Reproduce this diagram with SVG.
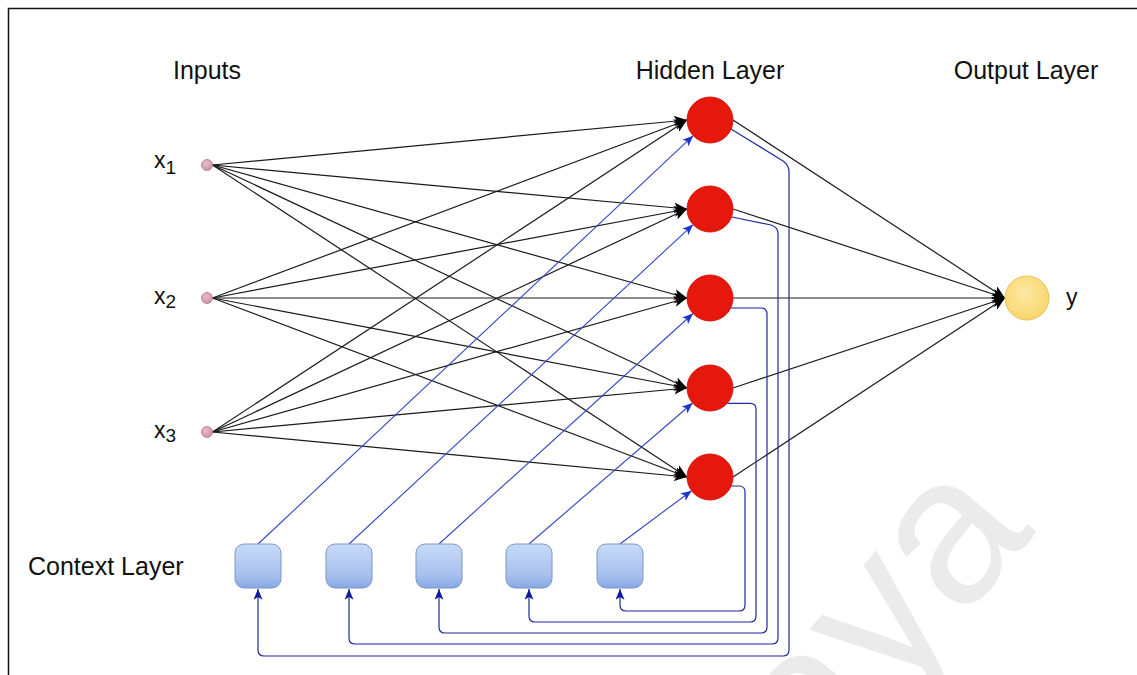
<svg xmlns="http://www.w3.org/2000/svg" width="1137" height="675" viewBox="0 0 1137 675">
  <defs>
    <style>
      .label { font-family: "Liberation Sans", Arial, sans-serif; font-size: 25px; fill: #111; }
      .var { font-family: "Liberation Sans", Arial, sans-serif; font-size: 23px; fill: #111; }
      .sub { font-size: 19px; }
      .fwd { fill: none; stroke: #1a1a1a; stroke-width: 1.2; marker-end: url(#arrowBlack); }
      .ctx { fill: none; stroke: #3446c2; stroke-width: 1.1; marker-end: url(#arrowBlue); }
      .rec { fill: none; stroke: #1f2b98; stroke-width: 1.2; marker-end: url(#arrowNavy); }
      .input { fill: url(#inputFill); stroke: #b07a8e; stroke-width: 0.8; }
      .hidden { fill: #e6170c; stroke: #cf1a12; stroke-width: 1; }
      .context { fill: url(#contextFill); stroke: #7f96c4; stroke-width: 1; }
    </style>
    <marker id="arrowBlack" viewBox="0 0 12 10" refX="12" refY="5" markerWidth="13" markerHeight="11" markerUnits="userSpaceOnUse" orient="auto">
      <path d="M0,0 L12,5 L0,10 L3,5 Z" fill="#000"/>
    </marker>
    <marker id="arrowBlue" viewBox="0 0 12 10" refX="12" refY="5" markerWidth="11" markerHeight="9" markerUnits="userSpaceOnUse" orient="auto">
      <path d="M0,0 L12,5 L0,10 L3,5 Z" fill="#1c35c8"/>
    </marker>
    <marker id="arrowNavy" viewBox="0 0 12 10" refX="12" refY="5" markerWidth="11" markerHeight="9" markerUnits="userSpaceOnUse" orient="auto">
      <path d="M0,0 L12,5 L0,10 L3,5 Z" fill="#0e1a9c"/>
    </marker>
    <radialGradient id="inputFill" cx="0.4" cy="0.35" r="0.7">
      <stop offset="0" stop-color="#e9bccb"/>
      <stop offset="1" stop-color="#cf8fa4"/>
    </radialGradient>
    <linearGradient id="contextFill" x1="0" y1="0" x2="0" y2="1">
      <stop offset="0" stop-color="#c8daf7"/>
      <stop offset="0.7" stop-color="#a7c0ee"/>
      <stop offset="1" stop-color="#87a7e3"/>
    </linearGradient>
    <radialGradient id="outputFill" cx="0.45" cy="0.4" r="0.65">
      <stop offset="0" stop-color="#fde9a6"/>
      <stop offset="1" stop-color="#f8d466"/>
    </radialGradient>
  </defs>

  <rect width="1137" height="675" fill="#fff"/>

  <!-- watermark -->
  <text x="0" y="0" transform="translate(819,791) rotate(-50)" font-family="Liberation Sans, Arial, sans-serif" font-size="210" fill="#ebebeb">aya</text>

  <!-- frame -->
  <path d="M8.5,675 V8.5 H1137" fill="none" stroke="#111" stroke-width="1.5"/>

  <!-- titles -->
  <text class="label" x="207" y="79" text-anchor="middle">Inputs</text>
  <text class="label" x="710" y="79" text-anchor="middle">Hidden Layer</text>
  <text class="label" x="1026" y="79" text-anchor="middle">Output Layer</text>
  <text class="label" x="28" y="575">Context Layer</text>

  <g id="connectors">
    <!-- inputs to hidden layer -->
    <path class="fwd" d="M212.5,165 L687,120"/>
    <path class="fwd" d="M212.5,165 L687,209"/>
    <path class="fwd" d="M212.5,165 L687,298"/>
    <path class="fwd" d="M212.5,165 L687,388"/>
    <path class="fwd" d="M212.5,165 L687,477"/>

    <path class="fwd" d="M212.5,298 L687,120"/>
    <path class="fwd" d="M212.5,298 L687,209"/>
    <path class="fwd" d="M212.5,298 L687,298"/>
    <path class="fwd" d="M212.5,298 L687,388"/>
    <path class="fwd" d="M212.5,298 L687,477"/>

    <path class="fwd" d="M212.5,432 L687,120"/>
    <path class="fwd" d="M212.5,432 L687,209"/>
    <path class="fwd" d="M212.5,432 L687,298"/>
    <path class="fwd" d="M212.5,432 L687,388"/>
    <path class="fwd" d="M212.5,432 L687,477"/>

    <!-- hidden layer to output -->
    <path class="fwd" d="M733,120 L1005,298"/>
    <path class="fwd" d="M733,209 L1005,298"/>
    <path class="fwd" d="M733,298 L1005,298"/>
    <path class="fwd" d="M733,388 L1005,298"/>
    <path class="fwd" d="M733,477 L1005,298"/>

    <!-- context units to hidden layer -->
    <path class="ctx" d="M258,544 L693.2,135.7"/>
    <path class="ctx" d="M349,544 L693.1,224.6"/>
    <path class="ctx" d="M439,544 L693.0,313.5"/>
    <path class="ctx" d="M529,544 L692.6,403.0"/>
    <path class="ctx" d="M620,544 L691.6,490.7"/>

    <!-- hidden layer copied back to context units -->
    <path class="rec" d="M731,129 L783,161 Q789,165 789,172 V650 Q789,656 783,656 H264 Q258,656 258,650 V589"/>
    <path class="rec" d="M732,217 L771,225 Q778,227 778,234 V638 Q778,644 772,644 H355 Q349,644 349,638 V589"/>
    <path class="rec" d="M730.7,308 H761 Q767,308 767,314 V627 Q767,633 761,633 H445 Q439,633 439,627 V589"/>
    <path class="rec" d="M727.2,403.3 H750 Q756,403.3 756,409 V616 Q756,622 750,622 H535 Q529,622 529,616 V589"/>
    <path class="rec" d="M731,486 H739 Q745,486 745,492 V605 Q745,611 739,611 H626 Q620,611 620,605 V589"/>
  </g>

  <!-- input units -->
  <g id="x1">
    <circle class="input" cx="207" cy="165" r="5.5"/>
    <text class="var" x="154" y="168">x<tspan class="sub" dy="6">1</tspan></text>
  </g>
  <g id="x2">
    <circle class="input" cx="207" cy="298" r="5.5"/>
    <text class="var" x="154" y="304">x<tspan class="sub" dy="4">2</tspan></text>
  </g>
  <g id="x3">
    <circle class="input" cx="207" cy="432" r="5.5"/>
    <text class="var" x="154" y="438">x<tspan class="sub" dy="4">3</tspan></text>
  </g>

  <!-- hidden units -->
  <g id="h1"><circle class="hidden" cx="710" cy="120" r="23"/></g>
  <g id="h2"><circle class="hidden" cx="710" cy="209" r="23"/></g>
  <g id="h3"><circle class="hidden" cx="710" cy="298" r="23"/></g>
  <g id="h4"><circle class="hidden" cx="710" cy="388" r="23"/></g>
  <g id="h5"><circle class="hidden" cx="710" cy="477" r="23"/></g>

  <!-- output unit -->
  <g id="y">
    <circle cx="1027" cy="298" r="22" fill="url(#outputFill)" stroke="#e6c260" stroke-width="1"/>
    <text class="var" x="1066" y="305">y</text>
  </g>

  <!-- context units -->
  <g id="c1"><rect class="context" x="235" y="544" width="46" height="44" rx="9"/></g>
  <g id="c2"><rect class="context" x="326" y="544" width="46" height="44" rx="9"/></g>
  <g id="c3"><rect class="context" x="416" y="544" width="46" height="44" rx="9"/></g>
  <g id="c4"><rect class="context" x="506" y="544" width="46" height="44" rx="9"/></g>
  <g id="c5"><rect class="context" x="597" y="544" width="46" height="44" rx="9"/></g>
</svg>
